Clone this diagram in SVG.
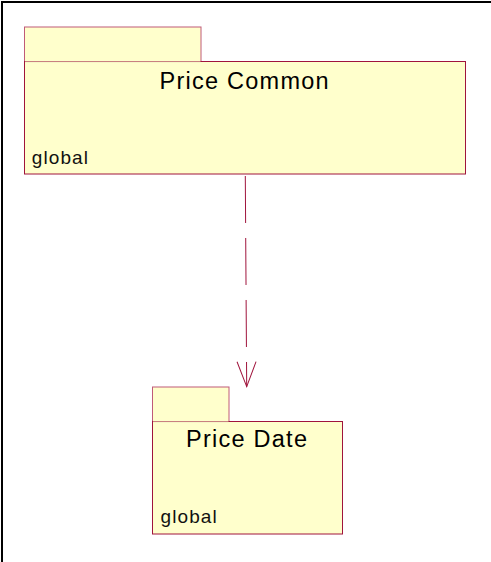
<svg xmlns="http://www.w3.org/2000/svg" width="491" height="562" viewBox="0 0 491 562">
<style>
.pk{fill:#FFFFCC;stroke:#A0143C;stroke-width:1}
.tab{fill:#FFFFCC;stroke:#C05A78;stroke-width:1}
.sep{stroke:#F2EEC4;stroke-width:1}
.title{font-family:"Liberation Sans",Arial,sans-serif;font-size:23.5px;letter-spacing:1.25px;fill:#000}
.vis{font-family:"Liberation Sans",Arial,sans-serif;font-size:19px;letter-spacing:1.1px;fill:#111}
.dep{fill:none;stroke:#A0143C;stroke-width:1;stroke-dasharray:47 15}
</style>
<defs>
<marker id="open" markerUnits="userSpaceOnUse" viewBox="-26 -12 30 24" markerWidth="30" markerHeight="24" refX="0" refY="0" orient="auto">
<path d="M-25,-9.5 L0,0 L-25,9.5" fill="none" stroke="#A0143C" stroke-width="1" stroke-dasharray="none"/>
</marker>
</defs>
<rect width="491" height="562" fill="#fff"/>
<path d="M2,562 V2 H491" fill="none" stroke="#000" stroke-width="2"/>
<g id="connectors">
<path class="dep" d="M245.3,176 L246.7,386.7" marker-end="url(#open)"/>
</g>
<g id="price-common">
<rect class="tab" x="24.5" y="27" width="176.5" height="35"/>
<rect class="pk" x="24.5" y="61.5" width="441" height="112.5"/>
<line class="sep" x1="25" y1="62" x2="200.5" y2="62"/>
<text class="title" x="159.5" y="88.5">Price Common</text>
<text class="vis" x="31.8" y="163.5">global</text>
</g>
<g id="price-date">
<rect class="tab" x="152.5" y="387" width="76.5" height="35"/>
<rect class="pk" x="152.5" y="421.5" width="190" height="112.5"/>
<line class="sep" x1="153" y1="422" x2="228.5" y2="422"/>
<text class="title" x="186" y="447.3">Price Date</text>
<text class="vis" x="160.5" y="522.5">global</text>
</g>
</svg>
